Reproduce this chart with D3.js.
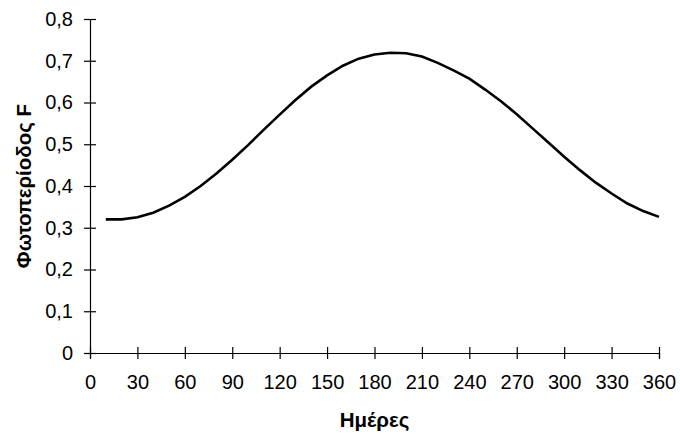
<!DOCTYPE html>
<html>
<head>
<meta charset="utf-8">
<script src="https://cdn.jsdelivr.net/npm/d3@7"></script>
<style>
  body { margin: 0; background: #fff; }
  text { font-family: "Liberation Sans", Arial, sans-serif; }
</style>
</head>
<body>
<svg id="chart" width="680" height="434"></svg>
<script>
const days = [10,20,30,40,50,60,70,80,90,100,110,120,130,140,150,160,170,180,190,200,210,220,230,240,250,260,270,280,290,300,310,320,330,340,350,360];
const photoperiod = [0.320,0.320,0.325,0.336,0.353,0.374,0.400,0.430,0.463,0.498,0.535,0.571,0.606,0.638,0.665,0.688,0.705,0.715,0.719,0.718,0.710,0.695,0.677,0.657,0.631,0.603,0.572,0.538,0.504,0.470,0.438,0.408,0.382,0.358,0.340,0.326];
const xTicks = [0,30,60,90,120,150,180,210,240,270,300,330,360];
const yTicks = [0,0.1,0.2,0.3,0.4,0.5,0.6,0.7,0.8];
const xTitle = "Ημέρες";
const yTitle = "Φωτοπερίοδος F";

const svg = d3.select("#chart");
const m = {left: 90, right: 21, top: 19, bottom: 81};
const W = 680, H = 434;
const x = d3.scaleLinear().domain([0,360]).range([m.left, W - m.right]);
const y = d3.scaleLinear().domain([0,0.8]).range([H - m.bottom, m.top]);
const fmt = d => d3.format(".1f")(d).replace(".", ",").replace(/^0,0$/, "0");

const xAxis = svg.append("g").attr("transform", `translate(0,${y(0)})`)
  .call(d3.axisBottom(x).tickValues(xTicks).tickSize(5).tickPadding(17).tickFormat(d3.format("d")));
xAxis.selectAll(".tick line").attr("y1", -6).attr("y2", 6);
xAxis.selectAll("text").style("font-size", "20px").attr("fill", "#000");

const yAxis = svg.append("g").attr("transform", `translate(${x(0)},0)`)
  .call(d3.axisLeft(y).tickValues(yTicks).tickSize(6).tickPadding(11).tickFormat(fmt));
yAxis.selectAll(".tick line").attr("x1", -6).attr("x2", 6);
yAxis.selectAll("text").style("font-size", "20px").attr("fill", "#000");

svg.selectAll(".domain").attr("stroke", "#000").attr("stroke-width", 1.2);
svg.selectAll(".tick line").attr("stroke", "#000").attr("stroke-width", 1.2);

const line = d3.line().x((d,i) => x(days[i])).y(d => y(d));
svg.append("path").datum(photoperiod)
  .attr("d", line).attr("fill", "none").attr("stroke", "#000").attr("stroke-width", 2.6);

svg.append("text").attr("x", (x(0)+x(360))/2).attr("y", 427)
  .attr("text-anchor", "middle").style("font-size", "20.5px").style("font-weight", "bold").text(xTitle);
svg.append("text").attr("transform", `translate(31,${(y(0)+y(0.8))/2}) rotate(-90)`)
  .attr("text-anchor", "middle").style("font-size", "20.5px").style("font-weight", "bold").text(yTitle);
</script>
</body>
</html>
